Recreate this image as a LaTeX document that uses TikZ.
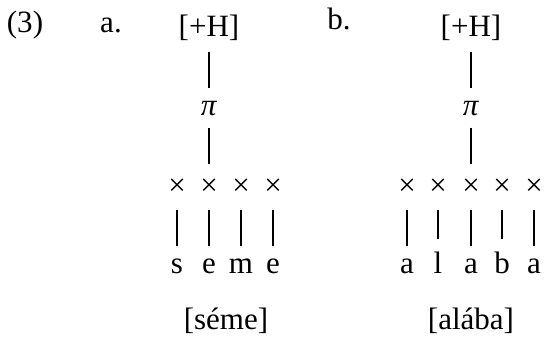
\documentclass[tikz,border=0pt]{standalone}
\usepackage{fontspec}
\setmainfont{Liberation Serif}

\begin{document}
\begin{tikzpicture}[x=0.387pt, y=-0.387pt, font=\fontsize{12}{14}\selectfont]
    \tikzset{
        feat/.style={anchor=base, inner xsep=0pt, inner ysep=3.9pt},
        root/.style={anchor=base, inner xsep=0pt, inner ysep=4.6pt},
        slot/.style={anchor=base, inner xsep=0pt, inner ysep=5.5pt},
        seg/.style={anchor=base, inner xsep=0pt, inner ysep=4.5pt},
        assoc/.style={line width=1.1pt}
    }
    % 画布大小
    \useasboundingbox (0,0) rectangle (545,339);

    % 例句编号
    \node[anchor=base] (num) at (25,33) {(3)};
    \node[anchor=base] (lba) at (111,33) {a.};
    \node[anchor=base] (lbb) at (339,30) {b.};

    % (a) séme
    \node[feat] (ha) at (209,37) {[+H]};
    \node[root] (pia) at (209,115) {\textit{π}};
    \foreach \i/\x/\s in {1/177/s, 2/209/e, 3/241/m, 4/273/e} {
        \node[slot] (xa\i) at (\x,195) {×};
        \node[seg] (sa\i) at (\x,273) {\s};
        \draw[assoc] (xa\i.south) -- (sa\i.north);
    }
    \draw[assoc] (ha.south) -- (pia.north);
    \draw[assoc] (pia.south) -- (xa2.north);
    \node[anchor=base] (forma) at (226,329) {[séme]};

    % (b) alába
    \node[feat] (hb) at (471,37) {[+H]};
    \node[root] (pib) at (471,115) {\textit{π}};
    \foreach \i/\x/\s in {1/407/a, 2/438/l, 3/471/a, 4/502/b, 5/534/a} {
        \node[slot] (xb\i) at (\x,195) {×};
        \node[seg] (sb\i) at (\x,273) {\s};
        \draw[assoc] (xb\i.south) -- (sb\i.north);
    }
    \draw[assoc] (hb.south) -- (pib.north);
    \draw[assoc] (pib.south) -- (xb3.north);
    \node[anchor=base] (formb) at (471,329) {[alába]};
\end{tikzpicture}
\end{document}
